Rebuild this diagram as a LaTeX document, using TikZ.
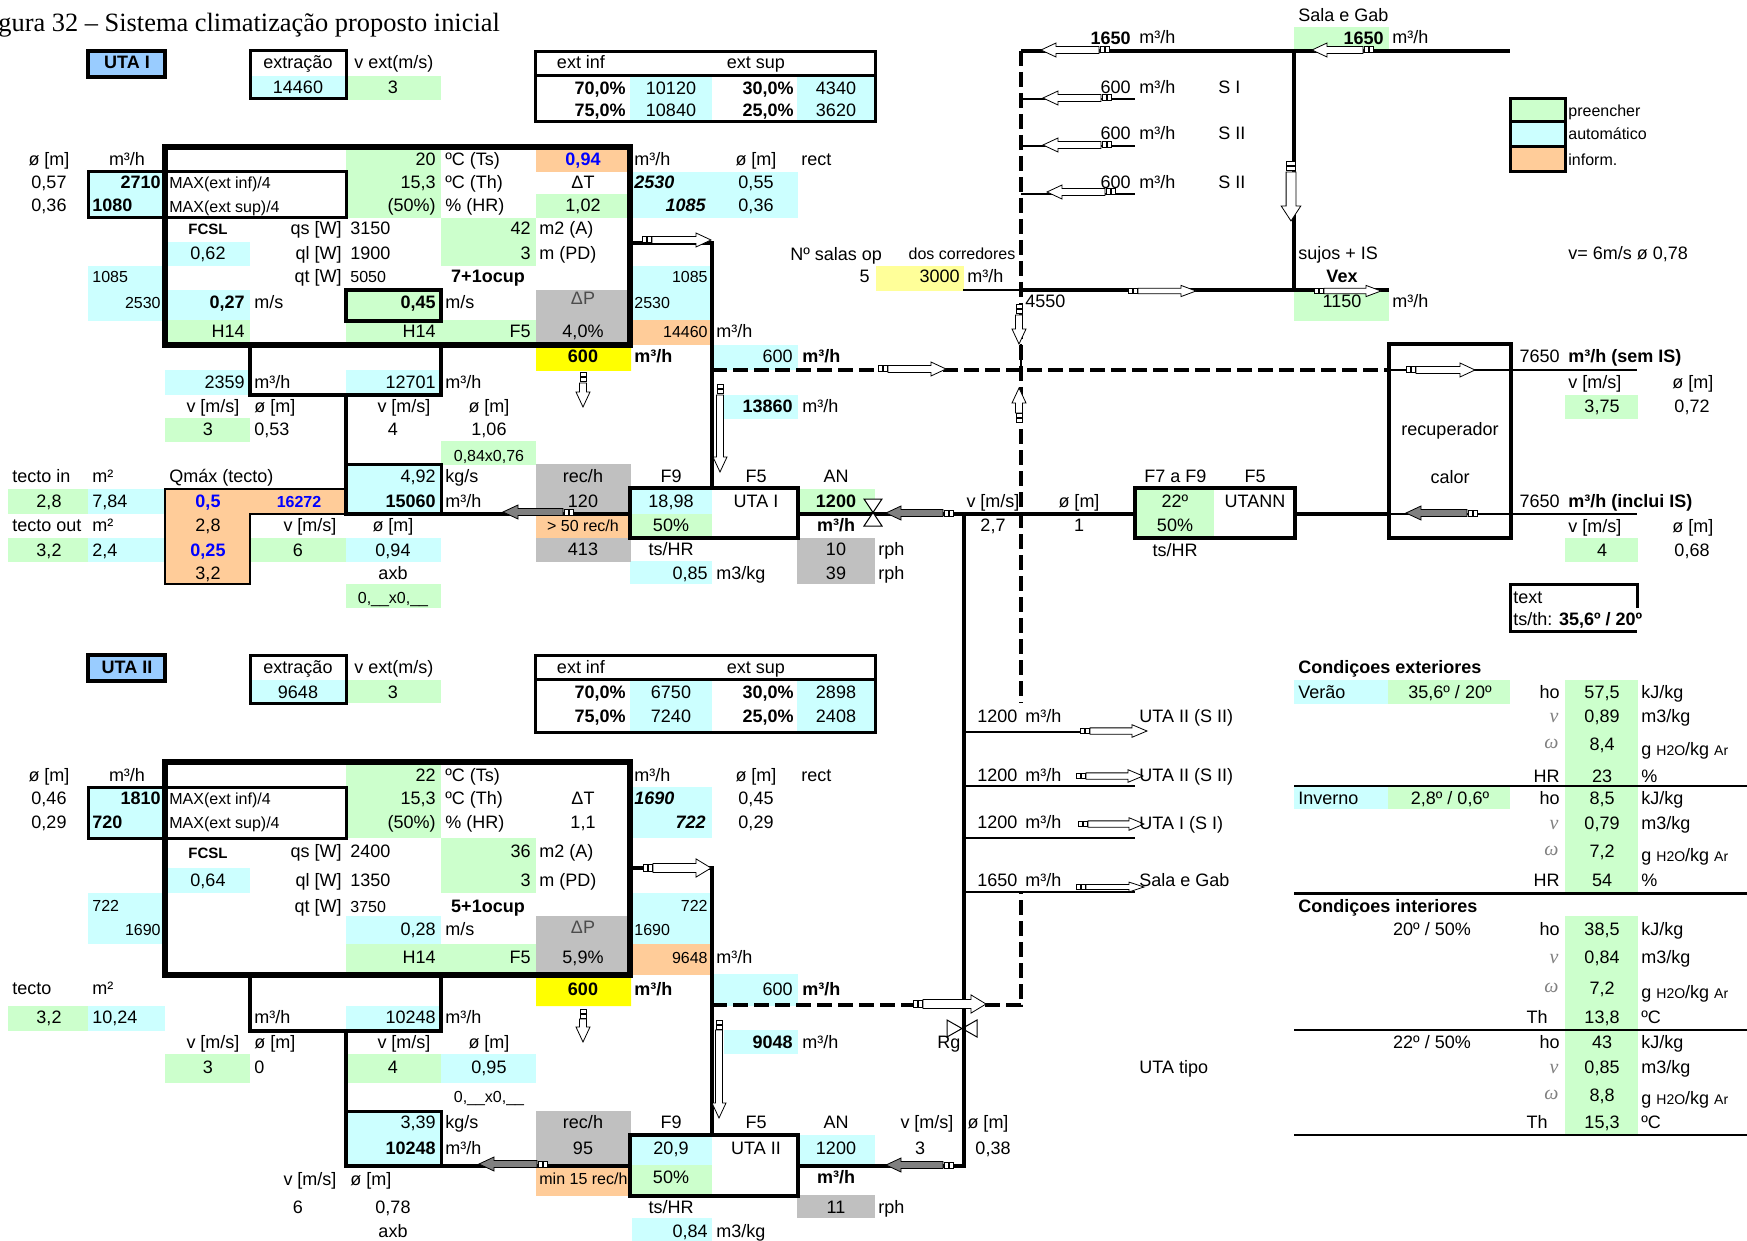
\documentclass[tikz,border=0pt]{standalone}
\usepackage{fontspec}
\setmainfont{Liberation Sans}
\newfontfamily\serfont{Liberation Serif}
\usepackage{xcolor}
\definecolor{autoc}{HTML}{CCFFFF}
\definecolor{fillc}{HTML}{CCFFCC}
\definecolor{infoc}{HTML}{FFCC99}
\definecolor{grayc}{HTML}{C0C0C0}
\definecolor{yelc}{HTML}{FFFF00}
\definecolor{paleyel}{HTML}{FFFF99}
\definecolor{utac}{HTML}{99CCFF}
\newcommand{\gunit}{g {\fontsize{7}{8}\selectfont H2O}/kg {\fontsize{7}{8}\selectfont Ar}}
\tikzset{
	ct/.style={anchor=base, inner sep=0pt},
	rt/.style={anchor=base east, inner sep=0pt},
	lt/.style={anchor=base west, inner sep=0pt},
	bld/.style={font=\fontsize{9}{10}\selectfont\bfseries},
	sml/.style={font=\fontsize{8}{9}\selectfont},
	duct/.style={line width=2.2pt, line cap=rect},
	main/.style={line width=2.7pt},
	thinbox/.style={line width=1.5pt},
	ductdash/.style={line width=1.9pt, dash pattern=on 7.5pt off 3pt},
	pics/flowarrow/.style args={#1/#2}{code={
		\draw[line width=.4pt, fill=#2] (10,-3.5) -- (#1-15,-3.5) -- (#1-15,-7) -- (#1,0) -- (#1-15,7) -- (#1-15,3.5) -- (10,3.5) -- cycle;
		\draw[line width=.5pt, fill=white] (0,-3) rectangle (4,3) (5,-3) rectangle (9,3);
	}}
}
\begin{document}
\begin{tikzpicture}[x=0.5pt, y=-0.5pt, font=\fontsize{9}{10}\selectfont]
	\useasboundingbox (0,0) rectangle (1747,1241);
	% cell colours
	\foreach \xa/\ya/\xb/\yb in {250/76/346/99, 630/76/712/122, 797/76/875/122, 88/172/165/218, 168/242/250/266, 88/266/165/321, 168/290/250/321, 633/172/798/218, 633/266/710/320, 165/370/250/395, 346/370/441/395, 714/345/798/370, 724/395/798/419, 346/464/441/514, 88/489/164/514, 88/538/164/562, 346/538/441/562, 630/490/712/514, 630/561/712/584, 250/680/346/703, 630/680/712/732, 797/680/875/732, 88/787/165/838, 168/868/250/893, 88/893/165/944, 346/916/441/944, 633/787/712/838, 633/893/710/944, 714/974/798/1006, 346/1006/441/1031, 88/1006/165/1031, 441/1054/536/1083, 724/1030/798/1054, 346/1111/441/1166, 632/1137/712/1165, 798/1135/875/1165, 632/1218/712/1241, 1510/122/1565/147, 1294/680/1388/704, 1294/786/1388/809}
		\fill[autoc] (\xa,\ya) rectangle (\xb,\yb);
	\foreach \xa/\ya/\xb/\yb in {346/76/441/100, 346/150/441/218, 536/194/628/218, 441/218/536/266, 346/290/441/321, 168/320/250/343, 346/320/536/343, 165/418/250/442, 441/441/536/465, 8/489/88/514, 8/538/88/562, 250/538/346/562, 346/584/441/608, 630/514/712/536, 798/489/875/514, 346/680/441/703, 346/765/441/838, 441/838/536/893, 346/944/536/972, 8/1006/88/1031, 165/1054/250/1083, 346/1054/441/1083, 632/1165/712/1194, 1135/490/1214/536, 1294/27/1389/51, 1294/291/1389/321, 1565/395/1638/419, 1565/538/1638/562, 1388/680/1510/704, 1388/786/1510/809, 1565/680/1638/893, 1565/916/1638/1134, 1510/99/1565/122}
		\fill[fillc] (\xa,\ya) rectangle (\xb,\yb);
	\foreach \xa/\ya/\xb/\yb in {536/150/628/172, 633/320/710/345, 536/516/631/538, 633/944/710/975, 536/1165/631/1196, 1510/147/1565/172}
		\fill[infoc] (\xa,\ya) rectangle (\xb,\yb);
	\foreach \xa/\ya/\xb/\yb in {536/290/628/343, 536/464/631/514, 536/538/631/562, 797/538/875/584, 536/916/628/972, 536/1111/631/1165, 797/1195/875/1218}
		\fill[grayc] (\xa,\ya) rectangle (\xb,\yb);
	\fill[yelc] (536,347) rectangle (631,371) (536,978) rectangle (631,1006);
	\fill[paleyel] (876,266) rectangle (964,291);
	% boxes
	\draw[line width=2.2pt, fill=utac] (88,51) rectangle (165,77);
	\draw[line width=2.2pt, fill=utac] (88,655) rectangle (165,681);
	\draw[line width=1.3pt, fill=infoc] (165,489) -- (346,489) -- (346,514) -- (250,514) -- (250,584) -- (165,584) -- cycle;
	\draw[thinbox] (250,51) rectangle (346,99);
	\draw[thinbox] (250,655) rectangle (346,703);
	\draw[thinbox] (535,52) rectangle (875,122) (535,76) -- (875,76);
	\draw[thinbox] (535,655) rectangle (875,732) (535,679) -- (875,679);
	\draw[main] (165,147) rectangle (630,345);
	\draw[main] (165,762) rectangle (630,975);
	\draw[thinbox] (88,172) rectangle (165,218) (165,172) rectangle (346,218);
	\draw[thinbox] (88,787) rectangle (165,838) (165,787) rectangle (346,838);
	\draw[line width=2.2pt] (346,290) rectangle (441,321);
	\draw[line width=2.2pt] (630,488) rectangle (798,538);
	\draw[line width=2.2pt] (630,1135) rectangle (798,1196);
	\draw[line width=2.2pt] (1135,488) rectangle (1295,538);
	\draw[line width=2.4pt] (1389,344) rectangle (1511,538);
	\draw[thinbox] (1510,99) rectangle (1565,172) (1510,122) -- (1565,122) (1510,147) -- (1565,147);
	\draw[thinbox] (1637,608) -- (1637,584) -- (1510,584) -- (1510,631) -- (1637,631);
	% junctions
	\coordinate (outA) at (630,243);
	\coordinate (bendA) at (712,243);
	\coordinate (filtA) at (712,488);
	\coordinate (tapA1) at (250,345);
	\coordinate (tapA2) at (250,395);
	\coordinate (tapA3) at (441,395);
	\coordinate (tapA4) at (441,345);
	\coordinate (tapA5) at (346,395);
	\coordinate (kgA1) at (346,514);
	\coordinate (kgA2) at (630,514);
	\coordinate (kgA3) at (346,464);
	\coordinate (kgA4) at (441,464);
	\coordinate (kgA5) at (441,514);
	\coordinate (utaAe) at (798,514);
	\coordinate (riser) at (964,514);
	\coordinate (utannW) at (1135,514);
	\coordinate (utannE) at (1295,514);
	\coordinate (recW) at (1389,514);
	\coordinate (endIn) at (1637,514);
	\coordinate (riserB) at (964,1166);
	\coordinate (utaBe) at (798,1166);
	\coordinate (outB) at (630,868);
	\coordinate (bendB) at (712,868);
	\coordinate (filtB) at (712,1135);
	\coordinate (tapB1) at (250,975);
	\coordinate (tapB2) at (250,1031);
	\coordinate (tapB3) at (441,1031);
	\coordinate (tapB4) at (441,975);
	\coordinate (tapB5) at (346,1031);
	\coordinate (kgB1) at (346,1166);
	\coordinate (kgB2) at (630,1166);
	\coordinate (kgB3) at (346,1111);
	\coordinate (kgB4) at (441,1111);
	\coordinate (kgB5) at (441,1166);
	\coordinate (retTop) at (1021,51);
	\coordinate (retEnd) at (1510,51);
	\coordinate (retJ) at (1294,51);
	\coordinate (vexJ) at (1294,290);
	\coordinate (vexW) at (963,290);
	\coordinate (vexM) at (1021,290);
	\coordinate (vexE) at (1389,290);
	\coordinate (retLow) at (1021,703);
	\coordinate (mixA) at (712,370);
	\coordinate (mixE) at (1389,370);
	\coordinate (endOut) at (1637,370);
	\coordinate (mixB) at (712,1005);
	\coordinate (mixBc) at (1021,1005);
	\coordinate (mixBu) at (1021,892);
	\coordinate (stubT) at (1021,344);
	\coordinate (stubB) at (1021,370);
	% ducts
	\draw[duct] (outA) -- (bendA) -- (filtA);
	\draw[duct] (tapA1) -- (tapA2) -- (tapA3) -- (tapA4);
	\draw[duct] (tapA5) -- (kgA1) -- (kgA2);
	\draw[line width=1.5pt] (kgA3) -- (kgA4) -- (kgA5);
	\draw[duct] (utaAe) -- (utannW);
	\draw[duct] (utannE) -- (recW);
	\draw[line width=1.2pt] (recW) -- (endIn);
	\draw[duct] (riser) -- (riserB) -- (utaBe);
	\draw[duct] (outB) -- (bendB) -- (filtB);
	\draw[duct] (tapB1) -- (tapB2) -- (tapB3) -- (tapB4);
	\draw[duct] (tapB5) -- (kgB1) -- (kgB2);
	\draw[line width=1.5pt] (kgB3) -- (kgB4) -- (kgB5);
	\draw[line width=1.6pt] (retTop) -- (retEnd);
	\draw[duct] (retJ) -- (vexJ);
	\draw[line width=1.3pt] (vexW) -- (vexM);
	\draw[line width=2pt] (vexM) -- (vexE);
	\draw[ductdash] (retTop) -- (retLow);
	\draw[ductdash] (mixA) -- (mixE);
	\draw[line width=1.2pt] (mixE) -- (endOut);
	\draw[ductdash] (mixB) -- (mixBc) -- (mixBu);
	\foreach \by in {99,146,194}
		\draw[line width=1.3pt] (1021,\by) -- (1135,\by);
	\draw[line width=1.3pt] (964,732) -- (1090,732);
	\foreach \by in {786,838,892}
		\draw[line width=1.3pt] (964,\by) -- (1135,\by);
	\draw[line width=.8pt] (stubT) -- (stubB);
	% valves
	\draw[line width=.5pt, fill=white] (864,499) -- (882,499) -- (864,526) -- (882,526) -- cycle;
	\draw[line width=.5pt] (947,1020) -- (977,1037) -- (977,1020) -- (947,1037) -- cycle;
	% air flow
	\foreach \x/\y/\len/\rot/\wid/\col in {642/240/69/0/1/white, 878/369/68/0/1/white, 1109/50/68/180/1/white, 1111/98/68/180/1/white, 1111/145/68/180/1/white, 1115/192/68/180/1/white, 1373/50/61/180/1/white, 1291/162/59/-90/1.4/white, 1128/291/68/0/.8/white, 1314/291/67/0/.8/white, 1019/305/39/-90/1/white, 1019/423/35/90/1/white, 1406/370/69/0/1/white, 1477/513/71/180/1/gray, 953/513/67/180/1/gray, 573/512/70/180/1/gray, 583/373/34/-90/1/white, 720/385/87/-90/1/white, 643/868/68/0/1.3/white, 583/1009/33/-90/1/white, 913/1004/73/0/1.3/white, 719/1020/98/-90/1/white, 953/1165/67/180/1/gray, 547/1164/68/180/1/gray, 1080/731/67/0/.9/white, 1076/776/67/0/.9/white, 1078/824/66/0/.9/white, 1076/887/68/0/.7/white}
		\pic[rotate=\rot, yscale=\wid] at (\x,\y) {flowarrow=\len/\col};
	% title
	\node[lt, font=\serfont\fontsize{13.2}{15}\selectfont] (title) at (-2,32) {gura 32 – Sistema climatização proposto inicial};
	% centred text
	\foreach \x/\y/\txt in {298/69/extração, 298/94/14460, 393/94/3, 581/69/ext inf, 756/69/ext sup, 671/95/10120, 671/117/10840, 836/95/4340, 836/117/3620, 49/166/ø [m], 127/166/{m³/h}, 49/189/{0,57}, 49/212/{0,36}, 208/260/{0,62}, 583/189/ΔT, 583/212/{1,02}, 583/338/{4,0\%}, 756/166/ø [m], 756/189/{0,55}, 756/212/{0,36}, 213/413/{v [m/s]}, 404/413/{v [m/s]}, 489/413/ø [m], 208/436/3, 393/436/4, 489/436/{1,06}, 583/482/{rec/h}, 671/482/F9, 756/482/F5, 836/482/AN, 49/507/{2,8}, 583/507/120, 671/507/{18,98}, 756/507/UTA I, 208/531/{2,8}, 310/531/{v [m/s]}, 393/531/ø [m], 671/531/50\%, 993/507/{v [m/s]}, 1079/507/ø [m], 993/531/{2,7}, 1079/531/1, 49/556/{3,2}, 298/556/6, 393/556/{0,94}, 583/555/413, 671/555/{ts/HR}, 836/555/10, 836/579/39, 208/579/{3,2}, 393/579/axb, 298/673/extração, 298/698/9648, 393/698/3, 581/673/ext inf, 756/673/ext sup, 671/698/6750, 671/722/7240, 836/698/2898, 836/722/2408, 49/781/ø [m], 127/781/{m³/h}, 49/804/{0,46}, 49/828/{0,29}, 208/886/{0,64}, 583/804/ΔT, 583/828/{1,1}, 583/963/{5,9\%}, 756/781/ø [m], 756/804/{0,45}, 756/828/{0,29}, 49/1023/{3,2}, 213/1048/{v [m/s]}, 404/1048/{v [m/s]}, 489/1048/ø [m], 208/1073/3, 393/1073/4, 489/1073/{0,95}, 583/1128/{rec/h}, 671/1128/F9, 756/1128/F5, 836/1128/AN, 927/1128/{v [m/s]}, 988/1128/ø [m], 583/1154/95, 671/1154/{20,9}, 756/1154/UTA II, 836/1154/1200, 920/1154/3, 993/1154/{0,38}, 671/1183/50\%, 310/1185/{v [m/s]}, 298/1213/6, 393/1213/{0,78}, 671/1213/{ts/HR}, 836/1213/11, 393/1237/axb, 1342/308/1150, 1602/413/{3,75}, 1692/413/{0,72}, 1450/436/recuperador, 1450/483/calor, 1255/482/F5, 1175/507/22º, 1255/507/UTANN, 1175/531/50\%, 1175/556/{ts/HR}, 1602/556/4, 1692/556/{0,68}, 1450/698/{35,6º / 20º}, 1450/804/{2,8º / 0,6º}, 1432/935/{20º / 50\%}, 1432/1048/{22º / 50\%}, 1602/698/{57,5}, 1602/722/{0,89}, 1602/750/{8,4}, 1602/782/23, 1602/804/{8,5}, 1602/829/{0,79}, 1602/857/{7,2}, 1602/886/54, 1602/935/{38,5}, 1602/963/{0,84}, 1602/994/{7,2}, 1602/1023/{13,8}, 1602/1048/43, 1602/1073/{0,85}, 1602/1101/{8,8}, 1602/1128/{15,3}}
		\node[ct] (c\x-\y) at (\x,\y) {\txt};
	\node[ct, text=black!70] (dpA) at (583,305) {ΔP};
	\node[ct, text=black!70] (dpB) at (583,933) {ΔP};
	% right aligned text
	\foreach \x/\y/\txt in {436/166/20, 436/189/{15,3}, 436/212/(50\%), 342/235/{qs [W]}, 342/260/{ql [W]}, 342/283/{qt [W]}, 531/235/42, 531/260/3, 245/338/H14, 436/338/H14, 531/338/F5, 245/388/2359, 436/388/12701, 436/482/{4,92}, 793/363/600, 708/579/{0,85}, 436/781/22, 436/804/{15,3}, 436/828/(50\%), 342/857/{qs [W]}, 342/886/{ql [W]}, 342/912/{qt [W]}, 531/857/36, 531/886/3, 436/935/{0,28}, 436/963/H14, 531/963/F5, 436/1023/10248, 793/995/600, 436/1128/{3,39}, 708/1237/{0,84}, 1131/94/600, 1131/140/600, 1131/189/600, 870/283/5, 960/283/3000, 1560/363/7650, 1560/507/7650, 1560/698/ho, 1560/782/HR, 1560/804/ho, 1560/886/HR, 1560/935/ho, 1548/1023/Th, 1560/1048/ho, 1548/1128/Th}
		\node[rt] (r\x-\y) at (\x,\y) {\txt};
	% left aligned text
	\foreach \x/\y/\txt in {354/69/{v ext(m/s)}, 350/235/3150, 350/260/1900, 445/166/ºC (Ts), 445/189/ºC (Th), 445/212/\% (HR), 539/235/m2 (A), 539/260/m (PD), 254/309/{m/s}, 445/309/{m/s}, 634/166/{m³/h}, 801/166/rect, 716/338/{m³/h}, 254/388/{m³/h}, 445/388/{m³/h}, 254/413/ø [m], 254/436/{0,53}, 802/413/{m³/h}, 12/482/tecto in, 92/482/m², 169/482/Qmáx (tecto), 445/482/{kg/s}, 92/507/{7,84}, 445/507/{m³/h}, 12/531/tecto out, 92/531/m², 92/556/{2,4}, 878/555/rph, 878/579/rph, 716/579/{m3/kg}, 354/673/{v ext(m/s)}, 350/857/2400, 350/886/1350, 445/781/ºC (Ts), 445/804/ºC (Th), 445/828/\% (HR), 539/857/m2 (A), 539/886/m (PD), 445/935/{m/s}, 634/781/{m³/h}, 801/781/rect, 716/963/{m³/h}, 12/994/tecto, 92/994/m², 92/1023/{10,24}, 254/1023/{m³/h}, 445/1023/{m³/h}, 254/1048/ø [m], 254/1073/0, 802/1048/{m³/h}, 445/1128/{kg/s}, 445/1154/{m³/h}, 350/1185/ø [m], 878/1213/rph, 716/1237/{m3/kg}, 937/1048/Rg, 1139/44/{m³/h}, 1139/94/{m³/h}, 1139/140/{m³/h}, 1139/189/{m³/h}, 1218/94/S I, 1218/140/S II, 1218/189/S II, 1298/22/Sala e Gab, 1392/44/{m³/h}, 790/261/Nº salas op, 967/283/{m³/h}, 1025/308/4550, 1298/260/sujos + IS, 1392/308/{m³/h}, 1568/260/{v= 6m/s ø 0,78}, 1568/388/{v [m/s]}, 1672/388/ø [m], 1144/482/F7 a F9, 1568/532/{v [m/s]}, 1672/532/ø [m], 1513/603/text, 1298/698/Verão, 1298/804/Inverno, 1641/698/{kJ/kg}, 1641/722/{m3/kg}, 1641/782/\%, 1641/804/{kJ/kg}, 1641/829/{m3/kg}, 1641/886/\%, 1641/935/{kJ/kg}, 1641/963/{m3/kg}, 1641/1023/ºC, 1641/1048/{kJ/kg}, 1641/1073/{m3/kg}, 1641/1128/ºC, 977/722/{1200\,\ m³/h}, 977/781/{1200\,\ m³/h}, 977/828/{1200\,\ m³/h}, 977/886/{1650\,\ m³/h}, 1139/722/UTA II (S II), 1139/781/UTA II (S II), 1139/829/UTA I (S I), 1139/886/Sala e Gab, 1139/1073/UTA tipo, 1641/755/\gunit, 1641/861/\gunit, 1641/998/\gunit, 1641/1104/\gunit}
		\node[lt] (l\x-\y) at (\x,\y) {\txt};
	% bold text
	\foreach \x/\y/\txt in {127/69/UTA I, 127/673/UTA II, 583/363/600, 583/995/600, 488/283/7+1ocup, 488/912/5+1ocup, 836/507/1200, 836/531/{m³/h}, 836/1183/{m³/h}, 1342/283/Vex}
		\node[ct, bld] (b\x-\y) at (\x,\y) {\txt};
	\foreach \x/\y/\txt in {626/95/{70,0\%}, 626/117/{75,0\%}, 794/95/{30,0\%}, 794/117/{25,0\%}, 161/189/2710, 245/309/{0,27}, 436/309/{0,45}, 793/413/13860, 436/507/15060, 626/698/{70,0\%}, 626/722/{75,0\%}, 794/698/{30,0\%}, 794/722/{25,0\%}, 161/804/1810, 793/1048/9048, 436/1154/10248, 1131/45/1650, 1384/45/1650}
		\node[rt, bld] (rb\x-\y) at (\x,\y) {\txt};
	\foreach \x/\y/\txt in {92/212/1080, 92/828/720, 634/363/{m³/h}, 802/363/{m³/h}, 634/995/{m³/h}, 802/995/{m³/h}, 1568/363/{m³/h (sem IS)}, 1568/507/{m³/h (inclui IS)}, 1298/673/Condiçoes exteriores, 1298/912/Condiçoes interiores}
		\node[lt, bld] (lb\x-\y) at (\x,\y) {\txt};
	\node[lt] (tsth) at (1513,625) {ts/th: \textbf{35,6º / 20º}};
	% blue figures
	\foreach \x/\y/\txt in {583/166/{0,94}, 208/507/{0,5}, 208/556/{0,25}}
		\node[ct, bld, text=blue] (bl\x-\y) at (\x,\y) {\txt};
	\node[ct, font=\fontsize{8}{9}\selectfont\bfseries, text=blue] (qmaxA) at (299,507) {16272};
	% bold italic flows
	\node[lt, font=\fontsize{9}{10}\selectfont\bfseries\itshape] (flA1) at (634,189) {2530};
	\node[rt, font=\fontsize{9}{10}\selectfont\bfseries\itshape] (flA2) at (706,212) {1085};
	\node[lt, font=\fontsize{9}{10}\selectfont\bfseries\itshape] (flB1) at (634,804) {1690};
	\node[rt, font=\fontsize{9}{10}\selectfont\bfseries\itshape] (flB2) at (706,828) {722};
	% small text
	\foreach \x/\y/\txt in {583/531/{> 50 rec/h}, 393/603/{0,\_\_x0,\_\_}, 489/461/{0,84x0,76}, 489/1102/{0,\_\_x0,\_\_}, 962/260/dos corredores}
		\node[ct, sml] (s\x-\y) at (\x,\y) {\txt};
	\foreach \x/\y/\txt in {161/309/2530, 708/283/1085, 708/338/14460, 161/935/1690, 708/911/722, 708/963/9648}
		\node[rt, sml] (sr\x-\y) at (\x,\y) {\txt};
	\foreach \x/\y/\txt in {92/283/1085, 350/283/5050, 634/309/2530, 169/189/{MAX(ext inf)/4}, 169/213/{MAX(ext sup)/4}, 92/911/722, 350/912/3750, 634/935/1690, 169/804/{MAX(ext inf)/4}, 169/828/{MAX(ext sup)/4}, 539/1184/{min 15 rec/h}, 1568/117/preencher, 1568/140/automático, 1568/166/inform.}
		\node[lt, sml] (sl\x-\y) at (\x,\y) {\txt};
	\node[ct, font=\fontsize{7.5}{9}\selectfont\bfseries] (fcslA) at (208,235) {FCSL};
	\node[ct, font=\fontsize{7.5}{9}\selectfont\bfseries] (fcslB) at (208,858) {FCSL};
	% property symbols
	\foreach \y in {722,829,963,1073}
		\node[rt, font=\serfont\itshape\fontsize{10}{11}\selectfont, text=black!50] (nu\y) at (1559,\y) {ν};
	\foreach \y in {748,855,992,1099}
		\node[rt, font=\serfont\itshape\fontsize{10}{11}\selectfont, text=black!50] (om\y) at (1559,\y) {ω};
	% condition lines
	\coordinate (rowW) at (1294,786);
	\coordinate (rowE) at (1747,786);
	\coordinate (heatW) at (1294,893);
	\coordinate (heatE) at (1747,893);
	\coordinate (intW) at (1294,1030);
	\coordinate (intE) at (1747,1030);
	\coordinate (endW) at (1294,1135);
	\coordinate (endE) at (1747,1135);
	\draw[line width=1.2pt] (rowW) -- (rowE);
	\draw[line width=1.5pt] (heatW) -- (heatE);
	\draw[line width=1pt] (intW) -- (intE);
	\draw[line width=1pt] (endW) -- (endE);
\end{tikzpicture}
\end{document}
